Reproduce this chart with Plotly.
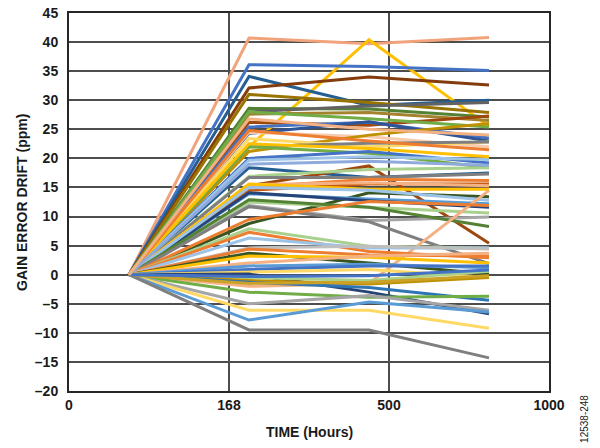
import plotly.graph_objects as go

# Measurement times (categories); first sample is the start reference (0 ppm)
sample_index = [0, 1, 2, 3]
tick_labels = ["0", "168", "500", "1000"]
y_ticks = [-20, -15, -10, -5, 0, 5, 10, 15, 20, 25, 30, 35, 40, 45]
y_tick_text = ["–20", "–15", "–10", "–5", "0", "5", "10", "15", "20", "25", "30", "35", "40", "45"]

start_ppm = 0.0
drift_168 = [40.7, 22.0, 36.1, 34.1, 32.1, 31.0, 28.6, 28.0, 27.6, 26.2, 25.4, 28.0, 24.3, 24.5,
             21.2, 23.4, 22.0, 22.0, 20.0, 19.7, 22.5, 18.4, 15.3, 16.9, 16.7, 15.0, 14.5, 15.5,
             15.6, 8.8, 13.9, 14.1, 15.0, 12.5, 11.9, 12.9, 11.7, -2.0, 9.5, 7.9, 7.3, 6.3, 4.6,
             4.4, 3.7, 3.2, 2.0, 1.5, 0.9, 0.4, 0.1, -0.5, -1.0, -1.3, -3.0, -5.0, -6.1, -7.8,
             -9.5, -1.5, -0.3, 24.8, 19.0, 26.8]
drift_500 = [39.7, 40.4, 35.8, 29.1, 34.0, 29.6, 28.5, 29.0, 27.9, 25.7, 26.2, 26.8, 26.3, 23.7,
             24.0, 22.0, 22.6, 20.9, 21.2, 20.3, 21.7, 16.7, 18.7, 18.1, 16.7, 16.4, 15.6, 15.8,
             14.7, 14.1, 13.0, 12.7, 14.5, 11.6, 9.3, 11.6, 9.1, -1.5, 12.6, 4.9, 4.0, 4.6, 4.9,
             3.4, 2.0, 3.0, 3.2, 1.8, 1.5, 0.9, -3.0, -1.0, -1.6, -2.2, -3.9, -3.6, -6.1, -4.7,
             -9.5, -1.3, -0.2, 23.0, 19.5, 25.0]
drift_1000 = [40.8, 25.5, 35.1, 30.0, 32.6, 27.9, 27.1, 29.6, 26.5, 27.3, 23.5, 25.4, 23.0, 22.0,
              26.0, 22.8, 22.8, 18.4, 19.2, 19.8, 20.3, 17.5, 5.4, 18.4, 17.3, 16.2, 15.6, 15.3,
              14.7, 13.4, 12.2, 11.6, 12.8, 10.6, 9.9, 8.3, 1.9, 14.5, 11.9, 4.6, 2.9, 4.6, 4.4,
              3.2, 0.1, 2.0, 3.7, 1.2, 1.5, -0.5, -6.7, 0.6, -0.5, -4.4, -3.7, -6.1, -9.2, -6.4,
              -14.3, -0.2, 0.8, 21.5, 18.8, 24.0]
line_colors = ["#F1A47B", "#FFC000", "#4472C4", "#255E91", "#843C0C", "#997300", "#548235", "#636363",
               "#A5822E", "#9E480E", "#4472C4", "#70AD47", "#2F5597", "#F8CBAD", "#BF9000", "#FFD966",
               "#7F7F7F", "#70AD47", "#4472C4", "#9DC3E6", "#FFC000", "#255E91", "#9E480E", "#A9D18E",
               "#7F7F7F", "#ED7D31", "#C55A11", "#F4B183", "#FFC000", "#375623", "#5B9BD5", "#264478",
               "#9DC3E6", "#A9D18E", "#A5A5A5", "#548235", "#7F7F7F", "#F4B183", "#ED7D31", "#A9D18E",
               "#ED7D31", "#9DC3E6", "#BFBFBF", "#ED7D31", "#375623", "#FFC000", "#F4B183", "#5B9BD5",
               "#4472C4", "#FFD966", "#264478", "#A9D18E", "#BF9000", "#2E75B6", "#70AD47", "#A5A5A5",
               "#FFD966", "#5B9BD5", "#7F7F7F", "#C9A227", "#4472C4", "#ED7D31", "#8FAADC", "#F4B183"]

fig = go.Figure()
for i, c in enumerate(line_colors):
    fig.add_trace(go.Scatter(
        x=sample_index,
        y=[start_ppm, drift_168[i], drift_500[i], drift_1000[i]],
        mode="lines", line=dict(color=c, width=3), showlegend=False, hoverinfo="skip"))

font_main = "Liberation Sans, Arial, sans-serif"
fig.update_layout(
    width=600, height=448,
    margin=dict(l=69, r=51, t=5, b=57),
    paper_bgcolor="white", plot_bgcolor="white",
    font=dict(family=font_main, size=14, color="#1a1a1a"),
    xaxis=dict(range=[-0.5, 3.5], tickmode="array",
               tickvals=[-0.5, -0.5 + 4/3, -0.5 + 8/3, 3.5], ticktext=tick_labels,
               showgrid=True, gridcolor="#4d4d4d", gridwidth=1.5, zeroline=False,
               showline=True, mirror=True, linecolor="#262626", linewidth=2,
               ticks="", ticklabeloverflow="allow",
               tickfont=dict(family=font_main, size=14, weight="bold")),
    yaxis=dict(range=[-20, 45], tickmode="array", tickvals=y_ticks, ticktext=y_tick_text,
               showgrid=True, gridcolor="#4d4d4d", gridwidth=1.5, zeroline=False,
               showline=True, mirror=True, linecolor="#262626", linewidth=2,
               ticks="", ticklabelstandoff=6, ticklabeloverflow="allow",
               tickfont=dict(family=font_main, size=14, weight="bold")),
    annotations=[
        dict(text="<b>TIME (Hours)</b>", xref="paper", yref="paper", x=0.5, y=-0.108,
             showarrow=False, xanchor="center", yanchor="middle", font=dict(size=14)),
        dict(text="<b>GAIN ERROR DRIFT (ppm)</b>", xref="paper", yref="paper", x=-0.098, y=0.5,
             showarrow=False, textangle=-90, xanchor="center", yanchor="middle", font=dict(size=14)),
        dict(text="12538-248", xref="paper", yref="paper", x=1.075, y=-0.005,
             showarrow=False, textangle=-90, xanchor="center", yanchor="top",
             font=dict(size=10, color="#1a1a1a")),
    ],
)
fig.write_html("out.html", config={"displayModeBar": False},
               post_script="document.body.style.margin='0px';")
